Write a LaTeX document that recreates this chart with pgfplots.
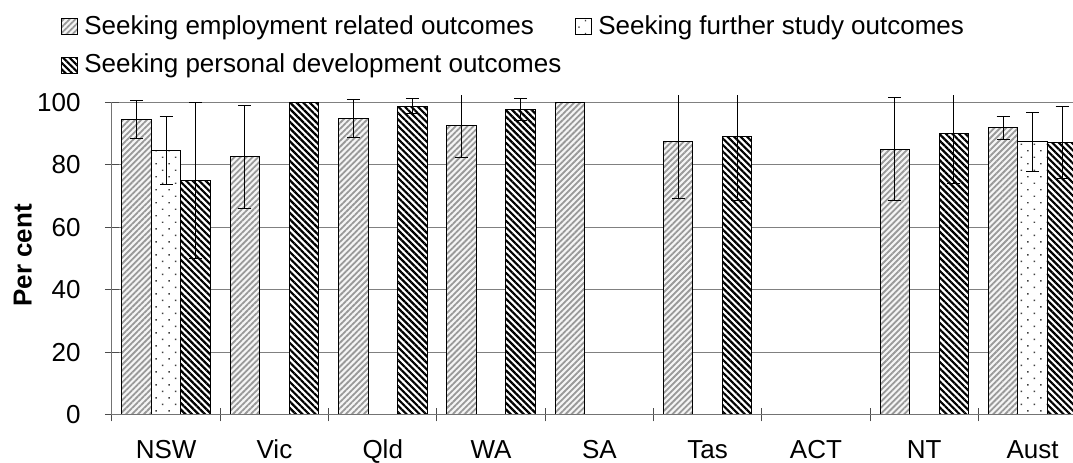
\documentclass[border=0pt]{standalone}
\usepackage{fontspec}
\setmainfont{Liberation Sans}
\usepackage{pgfplots}
\usepackage{pgfplotstable}
\pgfplotsset{compat=1.18}
\usetikzlibrary{patterns.meta}

\pgfplotstableread{
x emp empe fur fure per pere
0 94.4 6.0  84.6 10.8 75.0 25.0
1 82.5 16.5 0    0    100  0
2 94.8 6.0  0    0    98.7 2.4
3 92.5 10.2 0    0    97.7 3.5
4 100  0    0    0    0    0
5 87.4 18.2 0    0    89.2 20.5
6 0    0    0    0    0    0
7 85.0 16.5 0    0    90.0 16.0
8 91.8 3.8  87.3 9.4  87.1 11.4
}\datatable

\begin{document}
\fontsize{13}{15}\selectfont
\begin{tikzpicture}
\begin{axis}[
  name=ax,
  scale only axis,
  width=480.5pt, height=159.5pt,
  xmin=-0.5, xmax=8.3735,
  ymin=0, ymax=102,
  clip mode=individual,
  axis x line*=bottom, axis y line*=left,
  axis line style={draw=none},
  ybar=0pt, bar width=14.75pt,
  xtick={0,...,8},
  xticklabels={NSW,Vic,Qld,WA,SA,Tas,ACT,NT,Aust},
  minor xtick={-0.5,0.5,...,7.5},
  xtick style={draw=none},
  minor x tick style={draw=black!70, line width=0.5pt},
  ytick={0,20,...,100},
  ytick style={draw=black!70, line width=0.5pt},
  tick align=center,
  major tick length=7pt, minor tick length=6.5pt,
  ymajorgrids,
  major grid style={draw=black!50, line width=0.5pt},
  /pgf/number format/assume math mode=true,
  tick label style={font=\fontsize{13}{15}\selectfont, inner sep=0pt},
  xticklabel style={anchor=base, yshift=-18.3pt},
  yticklabel style={anchor=east, xshift=-12pt},
  ylabel={\bfseries Per cent},
  ylabel style={font=\fontsize{12.5}{15}\selectfont, inner sep=0pt},
  every axis y label/.style={at={(rel axis cs:0,0.5)}, rotate=90, anchor=south, yshift=35.5pt},
  legend columns=2,
  legend cell align=left,
  legend style={draw=none, fill=none, at={(rel axis cs:0,1)}, anchor=north west,
    xshift=-28.5pt, yshift=42.5pt,
    font=\fontsize{13}{15}\selectfont,
    nodes={inner sep=0pt},
    row sep=8pt,
    /tikz/column 1/.style={column sep=3pt},
    /tikz/column 2/.style={column sep=7pt},
    /tikz/column 3/.style={column sep=3pt}},
  legend image code/.code={\draw[#1] (0pt,-4pt) rectangle (8pt,4pt);},
  error bars/y dir=both, error bars/y explicit,
  error bars/error bar style={black, line width=0.5pt},
  error bars/error mark options={rotate=90, black, mark size=3.25pt, line width=0.5pt},
]
\addplot[draw=black, line width=0.5pt, fill=gray!8,
  postaction={pattern={Lines[angle=45,distance=2.1pt,line width=0.9pt]}, pattern color=black!40}]
  table[x=x, y=emp, y error=empe]{\datatable};
\addplot[draw=black, line width=0.5pt, fill=white,
  postaction={pattern={Dots[angle=45,distance=4.6pt,radius=0.5pt]}, pattern color=black!75}]
  table[x=x, y=fur, y error=fure]{\datatable};
\addplot[draw=black, line width=0.5pt, fill=white,
  postaction={pattern={Lines[angle=-45,distance=2.3pt,line width=1.1pt]}, pattern color=black}]
  table[x=x, y=per, y error=pere]{\datatable};
\legend{Seeking employment related outcomes, Seeking further study outcomes, Seeking personal development outcomes}
\draw[black!55, line width=0.5pt] (axis cs:-0.5,0) -- (axis cs:-0.5,100);
\draw[black!55, line width=0.5pt] (axis cs:-0.5,0) -- (axis cs:8.3735,0);
\end{axis}
\pgfresetboundingbox
\path ([xshift=-56pt,yshift=-24pt]ax.south west) rectangle ([yshift=48pt]ax.north east);
\end{tikzpicture}
\end{document}
